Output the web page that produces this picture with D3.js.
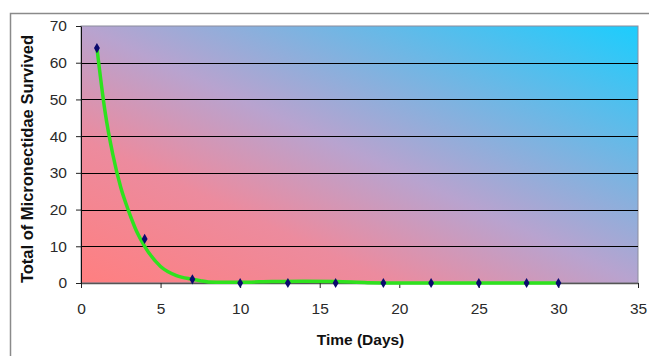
<!DOCTYPE html>
<html>
<head>
<meta charset="utf-8">
<script src="https://cdn.jsdelivr.net/npm/d3@7"></script>
<style>
  body { margin: 0; background: #fff; }
  text { font-family: Arial, "Liberation Sans", sans-serif; }
</style>
</head>
<body>
<svg id="chart" width="649" height="356"></svg>
<script>
// observed counts
let days = [1, 4, 7, 10, 13, 16, 19, 22, 25, 28, 30];
let survived = [64, 12, 1, 0, 0, 0, 0, 0, 0, 0, 0];

// green smoothed trend
let trendDays = [1, 1.5, 2, 2.5, 3, 3.5, 4, 5, 6, 7, 7.5, 8, 9, 10, 12, 14, 16, 18, 20, 25, 30];
let trendValues = [64, 47, 35, 26, 19.5, 14, 10, 4.5, 2, 1, 0.6, 0.3, 0.2, 0.2, 0.4, 0.5, 0.4, 0.1, 0, 0, 0];

let xTicks = [0, 5, 10, 15, 20, 25, 30, 35];
let yTicks = [0, 10, 20, 30, 40, 50, 60, 70];

let margin = {left: 81, top: 26, right: 11, bottom: 73};
let width = 649 - margin.left - margin.right;
let height = 356 - margin.top - margin.bottom;

let svg = d3.select("#chart");

// outer chart frame
svg.append("rect")
	.attr("x", 10.5)
	.attr("y", 13.5)
	.attr("width", 660)
	.attr("height", 360)
	.attr("fill", "#fff")
	.attr("stroke", "#8a8a8a")
	.attr("stroke-width", 1.5);

let defs = svg.append("defs");
let grad = defs.append("linearGradient")
	.attr("id", "bg")
	.attr("x1", 0).attr("y1", 1)
	.attr("x2", 1).attr("y2", 0);
grad.append("stop").attr("offset", "0%").attr("stop-color", "#ff7f80");
grad.append("stop").attr("offset", "28%").attr("stop-color", "#ec8b9e");
grad.append("stop").attr("offset", "50%").attr("stop-color", "#b8a3cf");
grad.append("stop").attr("offset", "100%").attr("stop-color", "#1ccdfd");

let g = svg.append("g")
	.attr("transform", "translate(" + margin.left + "," + margin.top + ")");

let x = d3.scaleLinear().domain([0, 35]).range([0, width]);
let y = d3.scaleLinear().domain([0, 70]).range([height, 0]);

g.append("rect")
	.attr("width", width)
	.attr("height", height)
	.attr("fill", "url(#bg)")
	.attr("stroke", "#8c8c9c")
	.attr("stroke-width", 1);

// gridlines
g.selectAll(".grid")
	.data(yTicks.filter(d => d > 0 && d < 70))
	.enter()
	.append("line")
	.attr("class", "grid")
	.attr("x1", 0)
	.attr("x2", width)
	.attr("y1", d => Math.round(y(d)) + 0.5)
	.attr("y2", d => Math.round(y(d)) + 0.5)
	.attr("stroke", "#000")
	.attr("stroke-width", 1);

let xAxis = g.append("g")
	.attr("transform", "translate(0," + height + ")")
	.call(d3.axisBottom(x).tickValues(xTicks).tickSizeInner(5).tickSizeOuter(0).tickPadding(15));

let yAxis = g.append("g")
	.call(d3.axisLeft(y).tickValues(yTicks).tickSizeInner(5).tickSizeOuter(0).tickPadding(9));

[xAxis, yAxis].forEach(a => {
	a.selectAll("text")
		.style("font-size", "15.5px")
		.attr("fill", "#2a2a2a");
	a.selectAll("line").attr("stroke", "#222");
});
xAxis.select(".domain").attr("stroke", "#555").attr("stroke-width", 1.5);
yAxis.select(".domain").attr("stroke", "#111");

// trend line
let line = d3.line()
	.x((d, i) => x(trendDays[i]))
	.y(d => y(d))
	.curve(d3.curveMonotoneX);

g.append("path")
	.datum(trendValues)
	.attr("d", line)
	.attr("fill", "none")
	.attr("stroke", "#2ee21e")
	.attr("stroke-width", 3.5)
	.attr("stroke-linecap", "round");

// markers
g.selectAll(".pt")
	.data(survived)
	.enter()
	.append("path")
	.attr("class", "pt")
	.attr("d", d3.symbol().type(d3.symbolDiamond).size(30))
	.attr("transform", (d, i) => "translate(" + x(days[i]) + "," + y(d) + ")")
	.attr("fill", "#0a0a6e");

// axis titles
svg.append("text")
	.attr("x", margin.left + width / 2 + 1)
	.attr("y", 345)
	.attr("text-anchor", "middle")
	.style("font-size", "15.5px")
	.style("font-weight", "bold")
	.attr("fill", "#111")
	.text("Time (Days)");

svg.append("text")
	.attr("transform", "translate(33,159) rotate(-90)")
	.attr("text-anchor", "middle")
	.style("font-size", "16.5px")
	.style("font-weight", "bold")
	.attr("fill", "#111")
	.text("Total of Micronectidae Survived");
</script>
</body>
</html>
